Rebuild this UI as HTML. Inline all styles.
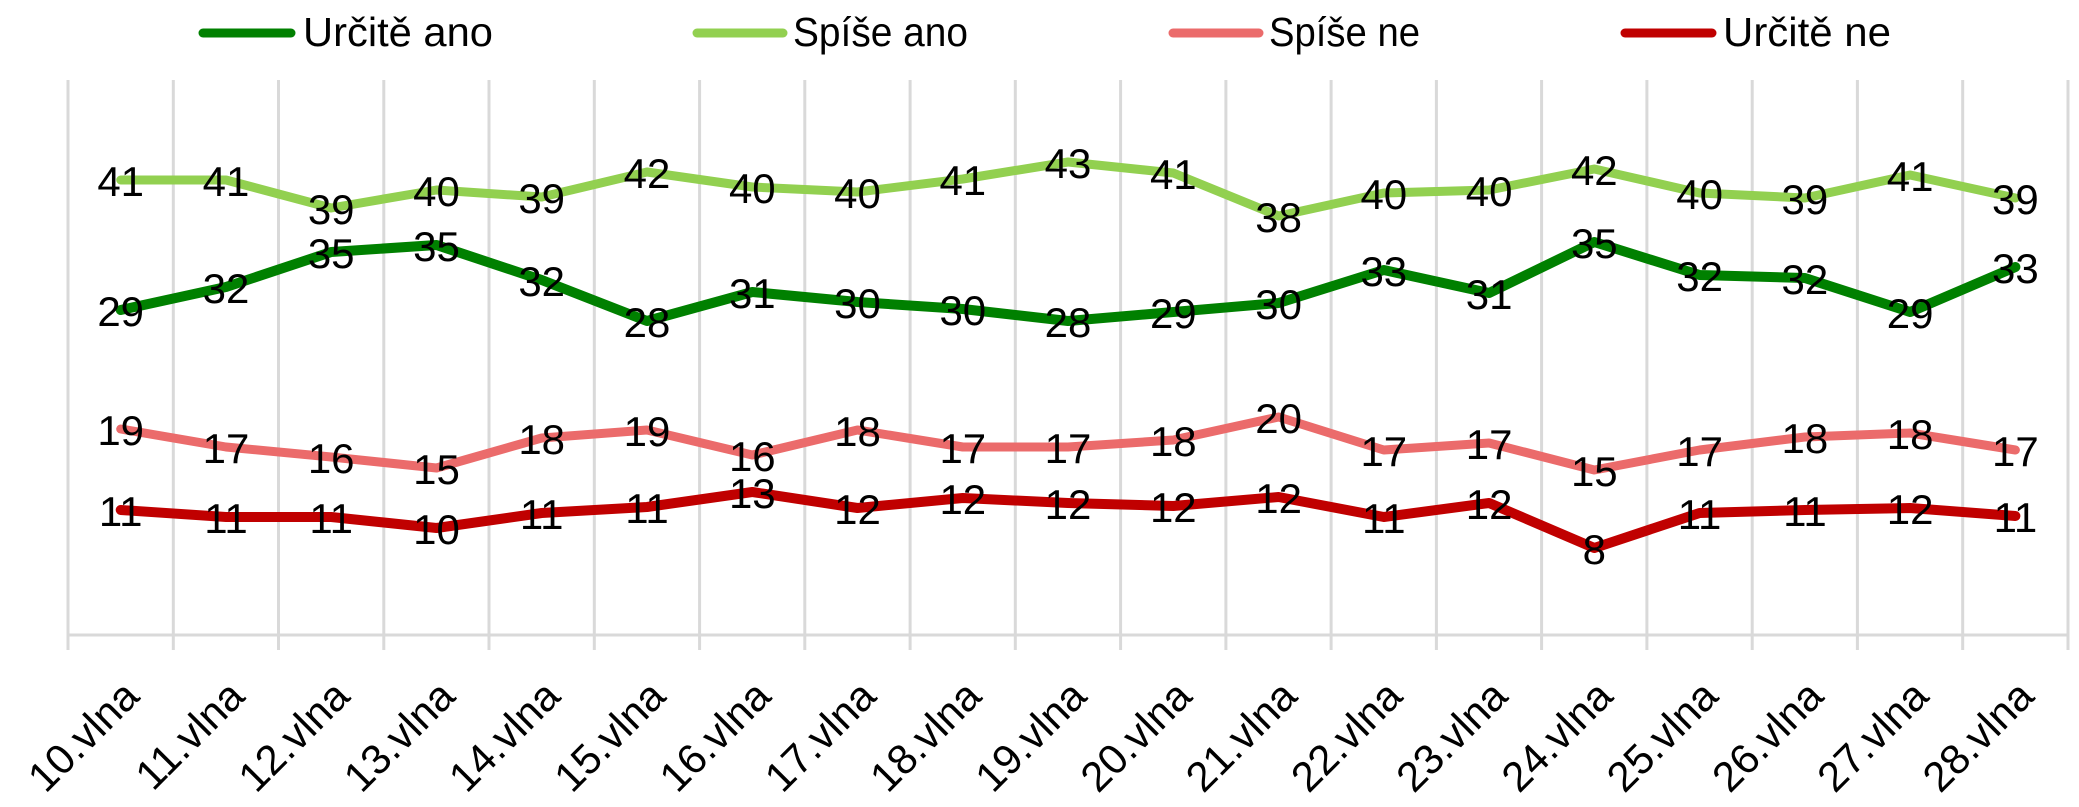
<!DOCTYPE html>
<html>
<head>
<meta charset="utf-8">
<style>
  html,body{margin:0;padding:0;background:#fff;}
  svg{display:block;}
  text{font-family:"Liberation Sans",Arial,sans-serif;fill:#000;}
</style>
</head>
<body>
<svg width="2079" height="807" viewBox="0 0 2079 807" xmlns="http://www.w3.org/2000/svg">
  <rect x="0" y="0" width="2079" height="807" fill="#fff"/>
  <!-- gridlines -->
  <g stroke="#d9d9d9" stroke-width="3">
    <line x1="68" y1="80" x2="68" y2="650"/>
    <line x1="173.3" y1="80" x2="173.3" y2="650"/>
    <line x1="278.5" y1="80" x2="278.5" y2="650"/>
    <line x1="383.8" y1="80" x2="383.8" y2="650"/>
    <line x1="489" y1="80" x2="489" y2="650"/>
    <line x1="594.3" y1="80" x2="594.3" y2="650"/>
    <line x1="699.6" y1="80" x2="699.6" y2="650"/>
    <line x1="804.8" y1="80" x2="804.8" y2="650"/>
    <line x1="910.1" y1="80" x2="910.1" y2="650"/>
    <line x1="1015.3" y1="80" x2="1015.3" y2="650"/>
    <line x1="1120.6" y1="80" x2="1120.6" y2="650"/>
    <line x1="1225.9" y1="80" x2="1225.9" y2="650"/>
    <line x1="1331.1" y1="80" x2="1331.1" y2="650"/>
    <line x1="1436.4" y1="80" x2="1436.4" y2="650"/>
    <line x1="1541.6" y1="80" x2="1541.6" y2="650"/>
    <line x1="1646.9" y1="80" x2="1646.9" y2="650"/>
    <line x1="1752.2" y1="80" x2="1752.2" y2="650"/>
    <line x1="1857.4" y1="80" x2="1857.4" y2="650"/>
    <line x1="1962.7" y1="80" x2="1962.7" y2="650"/>
    <line x1="2068" y1="80" x2="2068" y2="650"/>
    <line x1="66.5" y1="635" x2="2069.5" y2="635"/>
  </g>

  <!-- series lines -->
  <g fill="none" stroke-linejoin="round" stroke-linecap="round">
    <polyline stroke="#008000" stroke-width="10" points="120.7,310 226,287 331.2,252 436.5,245 541.7,280 647,321 752.3,292 857.5,302 962.8,309 1068,321 1173.3,312 1278.6,303 1383.8,270 1489.1,293 1594.3,242 1699.6,275 1804.9,278 1910.1,312 2015.4,267"/>
    <polyline stroke="#92d050" stroke-width="9" points="120.7,180 226,180 331.2,208 436.5,190 541.7,197 647,172 752.3,187 857.5,192 962.8,179 1068,162 1173.3,173 1278.6,216 1383.8,193 1489.1,190 1594.3,169 1699.6,193 1804.9,198 1910.1,175 2015.4,198"/>
    <polyline stroke="#eb6b6b" stroke-width="9" points="120.7,429 226,447 331.2,457 436.5,468 541.7,438 647,430 752.3,455 857.5,430 962.8,447 1068,447 1173.3,440 1278.6,417 1383.8,450 1489.1,443 1594.3,470 1699.6,450 1804.9,437 1910.1,433 2015.4,450"/>
    <polyline stroke="#c00000" stroke-width="10" points="120.7,510 226,517 331.2,517 436.5,528 541.7,513 647,507 752.3,492 857.5,508 962.8,498 1068,503 1173.3,506 1278.6,497 1383.8,517 1489.1,503 1594.3,548 1699.6,513 1804.9,510 1910.1,508 2015.4,516"/>
  </g>

  <!-- data labels -->
  <g font-size="42" text-anchor="middle">
    <!-- Určitě ano -->
    <text x="120.7" y="326">29</text>
    <text x="226" y="303">32</text>
    <text x="331.2" y="268">35</text>
    <text x="436.5" y="261">35</text>
    <text x="541.7" y="296">32</text>
    <text x="647" y="337">28</text>
    <text x="752.3" y="308">31</text>
    <text x="857.5" y="318">30</text>
    <text x="962.8" y="325">30</text>
    <text x="1068" y="337">28</text>
    <text x="1173.3" y="328">29</text>
    <text x="1278.6" y="319">30</text>
    <text x="1383.8" y="286">33</text>
    <text x="1489.1" y="309">31</text>
    <text x="1594.3" y="258">35</text>
    <text x="1699.6" y="291">32</text>
    <text x="1804.9" y="294">32</text>
    <text x="1910.1" y="328">29</text>
    <text x="2015.4" y="283">33</text>
    <!-- Spíše ano -->
    <text x="120.7" y="196">41</text>
    <text x="226" y="196">41</text>
    <text x="331.2" y="224">39</text>
    <text x="436.5" y="206">40</text>
    <text x="541.7" y="213">39</text>
    <text x="647" y="188">42</text>
    <text x="752.3" y="203">40</text>
    <text x="857.5" y="208">40</text>
    <text x="962.8" y="195">41</text>
    <text x="1068" y="178">43</text>
    <text x="1173.3" y="189">41</text>
    <text x="1278.6" y="232">38</text>
    <text x="1383.8" y="209">40</text>
    <text x="1489.1" y="206">40</text>
    <text x="1594.3" y="185">42</text>
    <text x="1699.6" y="209">40</text>
    <text x="1804.9" y="214">39</text>
    <text x="1910.1" y="191">41</text>
    <text x="2015.4" y="214">39</text>
    <!-- Spíše ne -->
    <text x="120.7" y="445">19</text>
    <text x="226" y="463">17</text>
    <text x="331.2" y="473">16</text>
    <text x="436.5" y="484">15</text>
    <text x="541.7" y="454">18</text>
    <text x="647" y="446">19</text>
    <text x="752.3" y="471">16</text>
    <text x="857.5" y="446">18</text>
    <text x="962.8" y="463">17</text>
    <text x="1068" y="463">17</text>
    <text x="1173.3" y="456">18</text>
    <text x="1278.6" y="433">20</text>
    <text x="1383.8" y="466">17</text>
    <text x="1489.1" y="459">17</text>
    <text x="1594.3" y="486">15</text>
    <text x="1699.6" y="466">17</text>
    <text x="1804.9" y="453">18</text>
    <text x="1910.1" y="449">18</text>
    <text x="2015.4" y="466">17</text>
    <!-- Určitě ne -->
    <text x="120.7" y="526">11</text>
    <text x="226" y="533">11</text>
    <text x="331.2" y="533">11</text>
    <text x="436.5" y="544">10</text>
    <text x="541.7" y="529">11</text>
    <text x="647" y="523">11</text>
    <text x="752.3" y="508">13</text>
    <text x="857.5" y="524">12</text>
    <text x="962.8" y="514">12</text>
    <text x="1068" y="519">12</text>
    <text x="1173.3" y="522">12</text>
    <text x="1278.6" y="513">12</text>
    <text x="1383.8" y="533">11</text>
    <text x="1489.1" y="519">12</text>
    <text x="1594.3" y="564">8</text>
    <text x="1699.6" y="529">11</text>
    <text x="1804.9" y="526">11</text>
    <text x="1910.1" y="524">12</text>
    <text x="2015.4" y="532">11</text>
  </g>

  <!-- x axis labels -->
  <g font-size="42" text-anchor="end">
    <text transform="translate(141.3,698.5) rotate(-45)">10.vlna</text>
    <text transform="translate(246.6,698.5) rotate(-45)">11.vlna</text>
    <text transform="translate(351.8,698.5) rotate(-45)">12.vlna</text>
    <text transform="translate(457.1,698.5) rotate(-45)">13.vlna</text>
    <text transform="translate(562.3,698.5) rotate(-45)">14.vlna</text>
    <text transform="translate(667.6,698.5) rotate(-45)">15.vlna</text>
    <text transform="translate(772.9,698.5) rotate(-45)">16.vlna</text>
    <text transform="translate(878.1,698.5) rotate(-45)">17.vlna</text>
    <text transform="translate(983.4,698.5) rotate(-45)">18.vlna</text>
    <text transform="translate(1088.6,698.5) rotate(-45)">19.vlna</text>
    <text transform="translate(1193.9,698.5) rotate(-45)">20.vlna</text>
    <text transform="translate(1299.2,698.5) rotate(-45)">21.vlna</text>
    <text transform="translate(1404.4,698.5) rotate(-45)">22.vlna</text>
    <text transform="translate(1509.7,698.5) rotate(-45)">23.vlna</text>
    <text transform="translate(1614.9,698.5) rotate(-45)">24.vlna</text>
    <text transform="translate(1720.2,698.5) rotate(-45)">25.vlna</text>
    <text transform="translate(1825.5,698.5) rotate(-45)">26.vlna</text>
    <text transform="translate(1930.7,698.5) rotate(-45)">27.vlna</text>
    <text transform="translate(2036,698.5) rotate(-45)">28.vlna</text>
  </g>

  <!-- legend -->
  <g stroke-width="9" stroke-linecap="round">
    <line x1="203" y1="33" x2="291" y2="33" stroke="#008000"/>
    <line x1="697" y1="33" x2="783" y2="33" stroke="#92d050"/>
    <line x1="1173" y1="33" x2="1259" y2="33" stroke="#eb6b6b"/>
    <line x1="1625" y1="33" x2="1712" y2="33" stroke="#c00000"/>
  </g>
  <g font-size="41">
    <text x="303" y="46" textLength="190" lengthAdjust="spacingAndGlyphs">Určitě ano</text>
    <text x="793" y="46" textLength="175" lengthAdjust="spacingAndGlyphs">Spíše ano</text>
    <text x="1269" y="46" textLength="151" lengthAdjust="spacingAndGlyphs">Spíše ne</text>
    <text x="1723" y="46" textLength="168" lengthAdjust="spacingAndGlyphs">Určitě ne</text>
  </g>
</svg>
</body>
</html>
